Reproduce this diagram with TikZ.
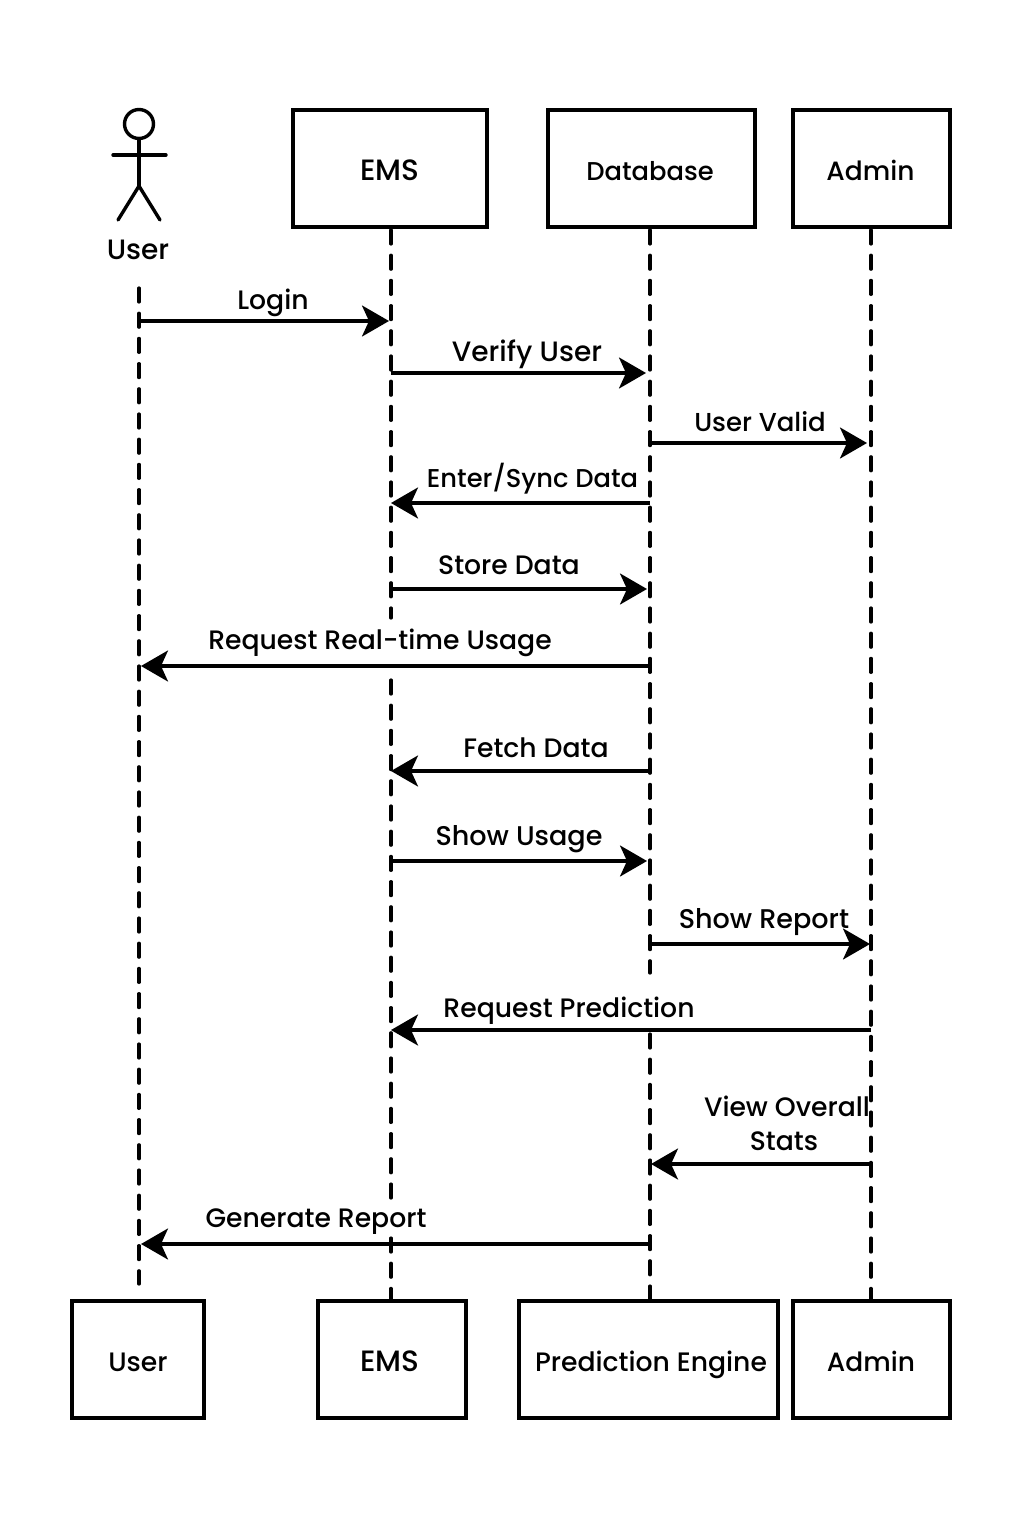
\documentclass[tikz,border=0pt]{standalone}
\usepackage{fontspec}
\setmainfont[Scale=0.98]{Poppins Medium}
\usetikzlibrary{arrows.meta}
\newcommand{\msgfont}{\fontsize{27.2}{32}\selectfont}
\newcommand{\sizedfont}[1]{\fontsize{#1}{32}\selectfont}
\tikzset{
  x=1pt,y=-1pt,
  objbox/.style={draw=black,line width=3.4pt,fill=white,inner sep=0pt,font=\msgfont},
  lifeline/.style={line width=3.2pt,line cap=round,dash pattern=on 14pt off 11.2pt},
  msgline/.style={line width=3.2pt,-{Stealth[length=27pt,width=31pt,inset=7pt]}},
  msglabel/.style={anchor=base,inner sep=0pt,font=\msgfont},
  actorline/.style={line width=3.4pt,line cap=round}
}
\begin{document}
\begin{tikzpicture}
\useasboundingbox (0,0) rectangle (1024,1536);
\fill[white] (0,0) rectangle (1024,1536);
% head boxes
\node[objbox,minimum width=194pt,minimum height=117pt] (emsTop) at (390,168.5) {};
\node[objbox,minimum width=207pt,minimum height=117pt] (dbTop) at (651.5,168.5) {};
\node[objbox,minimum width=157pt,minimum height=117pt] (adminTop) at (871.5,168.5) {};
\node[msglabel,font=\sizedfont{30}] (emsTopL) at (390,180.5) {EMS};
\node[msglabel,font=\sizedfont{26.3}] (dbTopL) at (650,180) {Database};
\node[msglabel,font=\sizedfont{27}] (adminTopL) at (870.5,180) {Admin};
% foot boxes
\node[objbox,minimum width=132pt,minimum height=117pt] (userFoot) at (138,1359.5) {};
\node[objbox,minimum width=148pt,minimum height=117pt] (emsFoot) at (392,1359.5) {};
\node[objbox,minimum width=259pt,minimum height=117pt] (peFoot) at (648.5,1359.5) {};
\node[objbox,minimum width=157pt,minimum height=117pt] (adminFoot) at (871.5,1359.5) {};
\node[msglabel] (userFootL) at (138,1371) {User};
\node[msglabel,font=\sizedfont{30}] (emsFootL) at (390,1371.5) {EMS};
\node[msglabel] (peFootL) at (651,1371) {Prediction Engine};
\node[msglabel,font=\sizedfont{27}] (adminFootL) at (871,1371) {Admin};
% actor
\node[draw=black,line width=3.4pt,circle,minimum size=29pt,inner sep=0pt] (actorHead) at (139,124) {};
\coordinate (actorHip) at (139,186);
\coordinate (armL) at (113,155);
\coordinate (armR) at (166,155);
\coordinate (legL) at (118,220);
\coordinate (legR) at (160,220);
\draw[actorline] (actorHead.south) -- (actorHip);
\draw[actorline] (armL) -- (armR);
\draw[actorline] (legL) -- (actorHip) -- (legR);
\node[msglabel,font=\sizedfont{28.6}] (userTopL) at (138,259.5) {User};
% lifelines
\coordinate (uA) at (139,288);
\coordinate (uB) at (139,1284);
\draw[lifeline] (uA) -- (uB);
\coordinate (eGap1) at (391,618);
\coordinate (eGap2) at (391,680);
\coordinate (eGap3) at (391,1198);
\coordinate (eGap4) at (391,1238);
\draw[lifeline] (391,230) -- (eGap1);
\draw[lifeline] (eGap2) -- (eGap3);
\draw[lifeline] (eGap4) -- (391,1300);
\coordinate (dGap1) at (650,973);
\coordinate (dGap2) at (650,1034);
\draw[lifeline] (650,230) -- (dGap1);
\draw[lifeline] (dGap2) -- (650,1300);
\draw[lifeline] (871,230) -- (871,1300);
% message end points
\coordinate (m1a) at (139,321);  \coordinate (m1b) at (389,321);
\coordinate (m2a) at (391,373);  \coordinate (m2b) at (646,373);
\coordinate (m3a) at (650,443);  \coordinate (m3b) at (867,443);
\coordinate (m4a) at (650,503);  \coordinate (m4b) at (391,503);
\coordinate (m5a) at (391,589);  \coordinate (m5b) at (647,589);
\coordinate (m6a) at (650,666);  \coordinate (m6b) at (141,666);
\coordinate (m7a) at (650,771);  \coordinate (m7b) at (391,771);
\coordinate (m8a) at (391,861);  \coordinate (m8b) at (647,861);
\coordinate (m9a) at (650,944);  \coordinate (m9b) at (870,944);
\coordinate (m10a) at (871,1030); \coordinate (m10b) at (391,1030);
\coordinate (m11a) at (871,1164); \coordinate (m11b) at (651,1164);
\coordinate (m12a) at (650,1244); \coordinate (m12b) at (141,1244);
\foreach \i in {1,...,12} {\draw[msgline] (m\i a) -- (m\i b);}
% labels
\node[msglabel] (l1) at (273,309) {Login};
\node[msglabel,font=\sizedfont{28.6}] (l2) at (527,361) {Verify User};
\node[msglabel,font=\sizedfont{26.5}] (l3) at (760,431) {User Valid};
\node[msglabel,font=\sizedfont{26.3}] (l4) at (532.5,487) {Enter/Sync Data};
\node[msglabel] (l5) at (509,574) {Store Data};
\node[msglabel] (l6) at (380,649) {Request Real-time Usage};
\node[msglabel] (l7) at (536,757) {Fetch Data};
\node[msglabel,font=\sizedfont{27.6}] (l8) at (519,845) {Show Usage};
\node[msglabel,font=\sizedfont{27.6}] (l9) at (764,928) {Show Report};
\node[msglabel] (l10) at (569,1017) {Request Prediction};
\node[msglabel] (l11) at (787,1116) {View Overall};
\node[msglabel] (l11b) at (784,1150) {Stats};
\node[msglabel] (l12) at (316,1227) {Generate Report};
\end{tikzpicture}
\end{document}
